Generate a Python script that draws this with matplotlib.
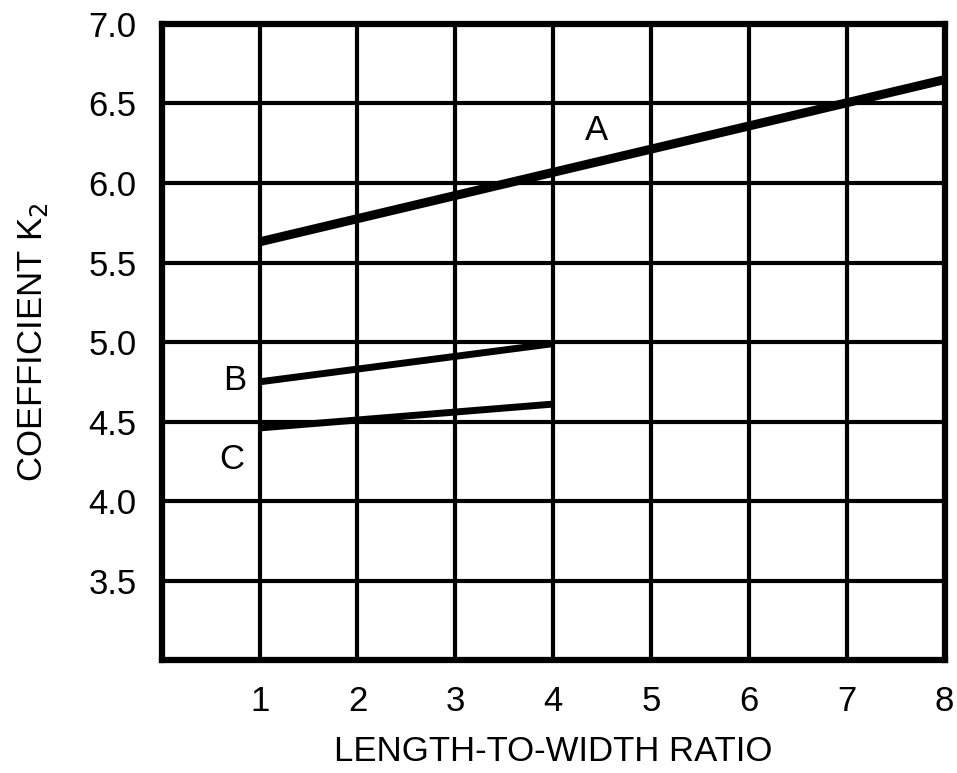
import numpy as np
import matplotlib.pyplot as plt

plt.rcParams['font.family'] = ['Liberation Sans', 'DejaVu Sans']

# coefficient K2 against length-to-width ratio
ratio_a = [1, 8]
k2_a = [5.63, 6.65]
ratio_b = [1, 4]
k2_b = [4.75, 4.99]
ratio_c = [1, 4]
k2_c = [4.46, 4.61]

x_ticks = [1, 2, 3, 4, 5, 6, 7, 8]
y_ticks = [3.5, 4.0, 4.5, 5.0, 5.5, 6.0, 6.5, 7.0]

fig = plt.figure(figsize=(9.57, 7.73), dpi=100)
ax = fig.add_axes([0.169, 0.146, 0.818, 0.823])

ax.set_xlim(0, 8)
ax.set_ylim(3.0, 7.0)
ax.set_xticks(x_ticks)
ax.set_yticks(y_ticks)
ax.set_yticklabels(['%.1f' % v for v in y_ticks])
ax.tick_params(length=0, labelsize=25, pad=18)
ax.grid(True, color='black', linewidth=3)
for s in ax.spines.values():
    s.set_linewidth(4.5)

ax.plot(ratio_a, k2_a, color='black', linewidth=6.5, solid_capstyle='butt')
ax.plot(ratio_b, k2_b, color='black', linewidth=5, solid_capstyle='butt')
ax.plot(ratio_c, k2_c, color='black', linewidth=5, solid_capstyle='butt')

ax.text(4.44, 6.33, 'A', fontsize=25, ha='center', va='center')
ax.text(0.75, 4.76, 'B', fontsize=25, ha='center', va='center')
ax.text(0.72, 4.26, 'C', fontsize=25, ha='center', va='center')

ax.set_xlabel('LENGTH-TO-WIDTH RATIO', fontsize=25, labelpad=12)
ax.set_ylabel('COEFFICIENT K$_2$', fontsize=25, labelpad=28)

fig.savefig('out.png', dpi=100)
